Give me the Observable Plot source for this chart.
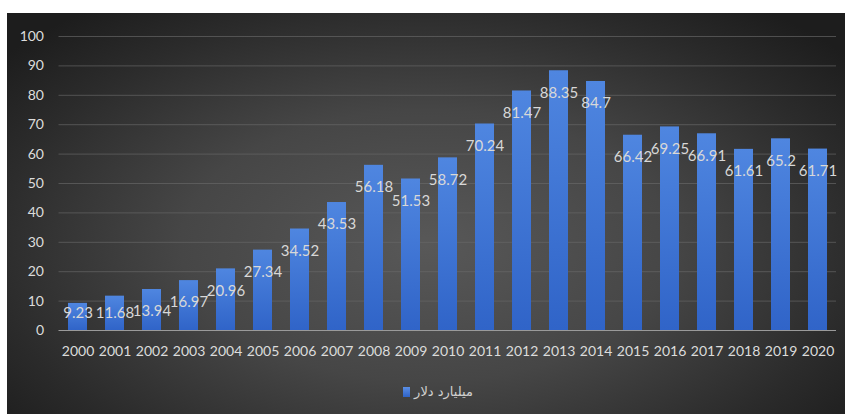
<!DOCTYPE html>
<html>
<head>
<meta charset="utf-8">
<script src="https://cdn.jsdelivr.net/npm/d3@7"></script>
<script src="https://cdn.jsdelivr.net/npm/@observablehq/plot@0.6"></script>
<style>
  html, body { margin: 0; padding: 0; background: #ffffff; }
  #wrap { position: relative; width: 845px; height: 414px; background: #ffffff; overflow: hidden; }
  #panel {
    position: absolute; left: 7px; top: 13px; width: 838px; height: 401px;
    background: radial-gradient(ellipse 65% 75% at 50% 58%, #585858 0%, #464646 45%, #2b2b2b 80%, #1d1d1d 100%);
    font-family: Lato, "Open Sans", sans-serif;
  }
  #legend {
    position: absolute; left: 0; top: 369px; width: 838px; text-align: center;
    direction: ltr; color: #d0d0d0; font-size: 13px; padding-left: 24px; box-sizing: border-box;
  }
  #legend .sw { display: inline-block; width: 7px; height: 10px; background: linear-gradient(#5a8fe6, #2f63c8); vertical-align: middle; margin-right: 4px; }
  #legend .tx { font-family: "DejaVu Sans", "Noto Sans", sans-serif; font-size: 13px; vertical-align: middle; }
</style>
</head>
<body>
<div id="wrap"><div id="panel"><div id="chart"></div><div id="legend"><span class="sw"></span><span class="tx">میلیارد دلار</span></div></div></div>
<script>
const years = ["2000","2001","2002","2003","2004","2005","2006","2007","2008","2009","2010","2011","2012","2013","2014","2015","2016","2017","2018","2019","2020"];
const values = [9.23, 11.68, 13.94, 16.97, 20.96, 27.34, 34.52, 43.53, 56.18, 51.53, 58.72, 70.24, 81.47, 88.35, 84.7, 66.42, 69.25, 66.91, 61.61, 65.2, 61.71];
const yTicks = [0, 10, 20, 30, 40, 50, 60, 70, 80, 90, 100];
const seriesName = "میلیارد دلار";

const data = years.map((y, i) => ({year: y, value: values[i]}));

const defs = () => {
  const d = d3.create("svg:defs");
  const g = d.append("linearGradient").attr("id", "barGrad").attr("x1", 0).attr("y1", 0).attr("x2", 0).attr("y2", 1);
  g.append("stop").attr("offset", "0%").attr("stop-color", "#4f86e0");
  g.append("stop").attr("offset", "100%").attr("stop-color", "#3064c8");
  return d.node();
};

const chart = Plot.plot({
  width: 838,
  height: 362,
  marginLeft: 51.5,
  marginRight: 9,
  marginTop: 23,
  marginBottom: 45,
  style: { background: "transparent", fontFamily: "Lato, 'Open Sans', sans-serif", color: "#d9d9d9" },
  x: { domain: years, paddingInner: 0.49, paddingOuter: 0.245, label: null, tickSize: 0, tickPadding: 17 },
  y: { domain: [0, 100], ticks: yTicks, label: null, tickSize: 0, tickPadding: 15 },
  marks: [
    defs,
    Plot.ruleY(yTicks.filter(t => t > 0), { stroke: "#686868", strokeWidth: 1, strokeOpacity: 0.65 }),
    Plot.barY(data, { x: "year", y: "value", fill: "url(#barGrad)" }),
    Plot.ruleY([0], { stroke: "#9a9a9a", strokeWidth: 1 }),
    Plot.text(data, { x: "year", y: d => Math.max(d.value - 7.5, 6), text: d => String(d.value), fill: "#d8d8d8", fontSize: 15 }),
    Plot.axisX({ tickSize: 0, tickPadding: 16, fontSize: 14, fill: "#dcdcdc", label: null }),
    Plot.axisY({ ticks: yTicks, tickSize: 0, tickPadding: 15, fontSize: 14, fill: "#dcdcdc", label: null })
  ]
});
chart.style.fontSize = "14px";
document.getElementById("chart").append(chart);
</script>
</body>
</html>
